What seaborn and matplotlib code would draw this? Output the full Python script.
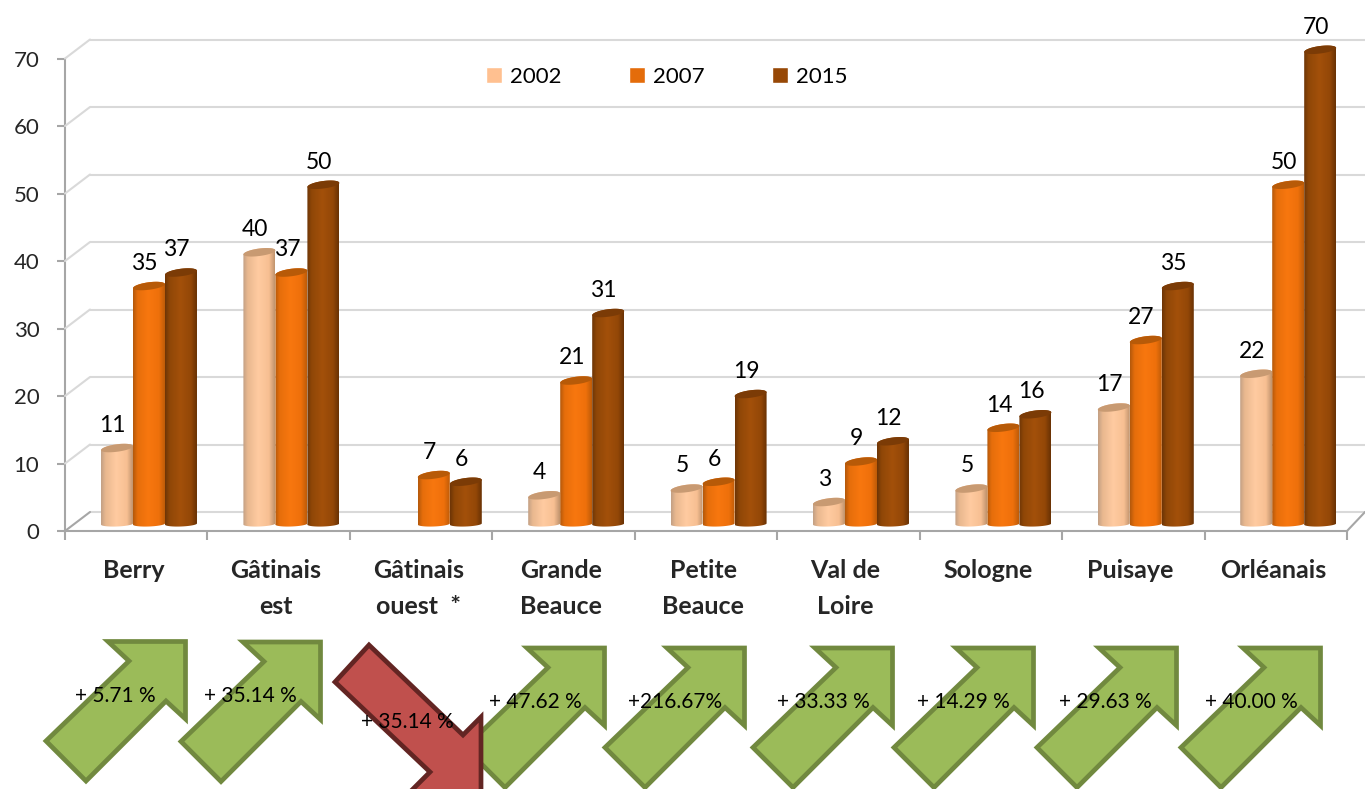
import numpy as np
import pandas as pd
import matplotlib
matplotlib.use("Agg")
import matplotlib.pyplot as plt
from matplotlib.colors import LinearSegmentedColormap
from matplotlib.patches import ConnectionPatch, Polygon
import seaborn as sns

# data
regions = ["Berry", "Gâtinais\nest", "Gâtinais\nouest  *", "Grande\nBeauce", "Petite\nBeauce",
           "Val de\nLoire", "Sologne", "Puisaye", "Orléanais"]
v2002 = [11, 40, np.nan, 4, 5, 3, 5, 17, 22]
v2007 = [35, 37, 7, 21, 6, 9, 14, 27, 50]
v2015 = [37, 50, 6, 31, 19, 12, 16, 35, 70]
years = ["2002", "2007", "2015"]
y_ticks = [0, 10, 20, 30, 40, 50, 60, 70]
arrow_labels = ["+ 5.71 %", "+ 35.14 %", "+ 35.14 %", "+ 47.62 %", "+216.67%", "+ 33.33 %",
                "+ 14.29 %", "+ 29.63 %", "+ 40.00 %"]

df = pd.DataFrame({"region": regions * 3,
                   "year": [y for y in years for _ in regions],
                   "value": v2002 + v2007 + v2015})

W, H = 1365, 789
PX_UNIT = 6.75
YMIN, YMAX = -1, 77.6
GREY = "#A6A6A6"
GRID = "#D9D9D9"

sns.set_theme(style="white")
plt.rcParams["font.family"] = ["Lato", "DejaVu Sans"]
plt.rcParams["text.color"] = "black"


def axes_px(left, right, base):
    # axes placed in pixels, base = pixel row of value 0
    bottom = base - YMIN * PX_UNIT
    height = (YMAX - YMIN) * PX_UNIT
    a = fig.add_axes([left / W, (H - bottom) / H, (right - left) / W, height / H])
    a.set_ylim(YMIN, YMAX)
    a.patch.set_alpha(0)
    return a


fig = plt.figure(figsize=(W / 100, H / 100), dpi=100, facecolor="white")

# back wall
ax_back = axes_px(90, 1365, 512)
ax_back.set_xticks([])
ax_back.set_yticks(y_ticks)
ax_back.set_yticklabels([])
ax_back.tick_params(length=0)
ax_back.grid(axis="y", color=GRID, lw=1.5)
sns.despine(ax=ax_back, left=True, bottom=True)

# front axis with ticks and labels
ax_front = axes_px(65, 1347, 531)
# set_position resets the ticks, so it goes first
ax_front.spines["bottom"].set_position(("data", 0))
ax_front.set_xlim(0, 9)
ax_front.set_yticks(y_ticks)
ax_front.set_xticks(range(10))
ax_front.set_xticklabels([])
ax_front.set_xticks(np.arange(9) + 0.48, labels=regions, minor=True, fontweight="bold", linespacing=1.72)
ax_front.tick_params(axis="x", which="major", length=6.5, width=1.5, color=GREY, bottom=True)
ax_front.tick_params(axis="x", which="minor", length=0, pad=20, labelsize=18)
ax_front.tick_params(axis="y", length=5.5, width=1.5, color=GREY, left=True, labelsize=16, pad=13)
sns.despine(ax=ax_front, right=True, top=True)
for s in ["left", "bottom"]:
    ax_front.spines[s].set_color(GREY)
    ax_front.spines[s].set_linewidth(1.5)
ax_front.spines["left"].set_bounds(0, 70)

# side wall connecting front ticks to the back grid
for v in y_ticks:
    fig.add_artist(ConnectionPatch((0, v), (0, v), ax_front.get_yaxis_transform(),
                                   ax_back.get_yaxis_transform(), color=GRID if v else GREY, lw=1.5))
fig.add_artist(ConnectionPatch((1, 0), (1, 0), ax_front.get_yaxis_transform(),
                               ax_back.get_yaxis_transform(), color=GREY, lw=1.5, shrinkB=0))

# bars
ax = axes_px(77.8, 1359.4, 524)
palette = ["#FFC090", "#E46C0A", "#974806"]
sns.barplot(data=df, x="region", y="value", hue="year", palette=palette, saturation=1,
            width=0.674, gap=0, ax=ax)
ax.set_xlim(-0.5, 8.5)
ax.set_ylim(YMIN, YMAX)
ax.set_xlabel("")
ax.set_ylabel("")
ax.set_xticks([])
ax.set_yticks([])
sns.despine(ax=ax, left=True, bottom=True)

shades = [["#C3A084", "#E9B88F", "#FFCBA1", "#F7BF92", "#C1946E"],
          ["#B4590B", "#E66E0B", "#F8770F", "#EE700B", "#BF5C08"],
          ["#6E3506", "#8F4707", "#A3500A", "#934707", "#693204"]]
tops = ["#C89A72", "#B75A08", "#7B3B06"]
stops = [0, 0.14, 0.48, 0.82, 1]
th = np.linspace(0, np.pi, 40)
lift = 1.5 / PX_UNIT

for i, cont in enumerate(ax.containers):
    cmap = LinearSegmentedColormap.from_list("cyl", list(zip(stops, shades[i])))
    for bar in cont:
        x, w, h = bar.get_x(), bar.get_width(), bar.get_height()
        bar.set_visible(False)
        cx = x + w / 2
        xs = cx + w / 2 * np.cos(th)
        tilt = 2 / PX_UNIT * np.cos(th)
        top_y = h + lift + 4 / PX_UNIT * np.sin(th) + tilt
        bot_y = -2.5 / PX_UNIT * np.sin(th) + tilt * 0.3
        outline = np.r_[np.c_[xs, top_y], np.c_[xs[::-1], bot_y[::-1]]]
        im = ax.imshow(np.linspace(0, 1, 64)[None, :], cmap=cmap, aspect="auto", interpolation="bilinear",
                       extent=[x, x + w, YMIN, h + 2], zorder=3 + i)
        im.set_clip_path(Polygon(outline, transform=ax.transData))
        cap = np.r_[np.c_[xs, top_y], np.c_[xs[::-1], h + lift - 3.5 / PX_UNIT * np.sin(th[::-1]) + tilt[::-1]]]
        ax.add_patch(Polygon(cap, closed=True, fc=tops[i], ec="none", zorder=3 + i))
    labels = ax.bar_label(cont, fmt="%g", padding=10, fontsize=16.5, zorder=10)
    for t in labels:
        t.xyann = (-3.2, 10)
ax.set_xlim(-0.5, 8.5)
ax.set_ylim(YMIN, YMAX)

sns.move_legend(ax, loc="center left", bbox_to_anchor=((485.5 - 77.8) / 1281.6, (530.75 - 77) / ((YMAX - YMIN) * PX_UNIT)),
                ncol=3, title=None, frameon=False, fontsize=16, handlelength=0.72, handleheight=0.72,
                handletextpad=0.36, columnspacing=3.05, borderpad=0, borderaxespad=0)

# block arrows below the axis
over = fig.add_axes([0, 0, 1, 1])
over.set_xlim(0, W)
over.set_ylim(H, 0)
over.axis("off")
over.patch.set_alpha(0)

up_shape = np.array([[-2.5, 2.5], [-80, 2.5], [-59, 22], [-142, 102], [-102, 142], [-22, 62], [-2.5, 80]])
up_tips = [(188, 639), (323, 639.5), (607, 645.5), (747, 645.5), (895, 645.5), (1036, 645.5), (1179, 645.5), (1323, 645.5)]
for tip in up_tips:
    over.add_patch(Polygon(up_shape + tip, closed=True, fc="#9BBB59", ec="#71893F", lw=3.4, joinstyle="miter", zorder=2))
down_pts = [(369, 645), (335, 682), (430, 772), (406, 796), (481, 796), (481, 717), (463, 735)]
over.add_patch(Polygon(down_pts, closed=True, fc="#C0504D", ec="#632523", lw=3.4, joinstyle="miter", zorder=3))

text_pos = [(115, 696), (250, 696), (407, 722), (535, 702), (675, 702), (823, 702), (963, 702), (1105, 702), (1251, 702)]
for lab, (tx, ty) in zip(arrow_labels, text_pos):
    over.text(tx, ty, lab, fontsize=15, ha="center", va="center", zorder=5)

fig.savefig("out.png", dpi=100)
